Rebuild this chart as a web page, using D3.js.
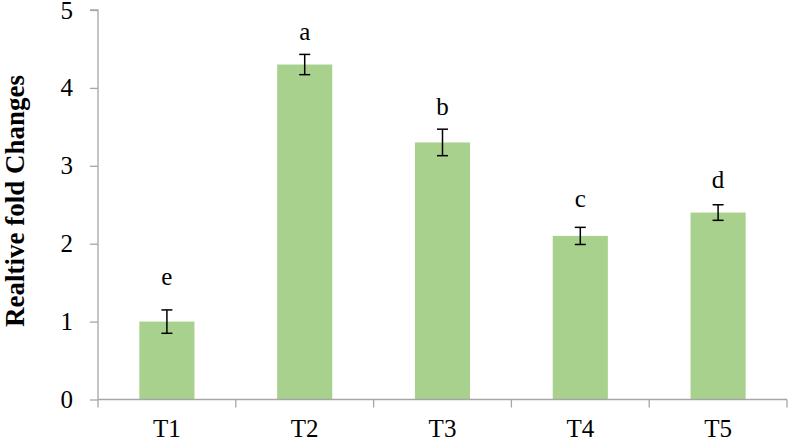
<!DOCTYPE html>
<html>
<head>
<meta charset="utf-8">
<script src="https://cdn.jsdelivr.net/npm/d3@7/dist/d3.min.js"></script>
<style>
html,body{margin:0;padding:0;background:#fff;}
svg{display:block;}
</style>
</head>
<body>
<svg id="chart" width="788" height="441"></svg>
<script>
const categories = ["T1", "T2", "T3", "T4", "T5"];
const values = [1.0, 4.3, 3.3, 2.1, 2.4];
const errors = [0.15, 0.13, 0.17, 0.11, 0.10];
const letters = ["e", "a", "b", "c", "d"];
const letterPos = [1.47, 4.61, 3.65, 2.47, 2.71];
const yTicks = [0, 1, 2, 3, 4, 5];
const yTitle = "Realtive fold Changes";

const svg = d3.select("#chart");
const m = {left: 98, right: 1, top: 10, bottom: 41.5};
const W = 788, H = 441;
const x = d3.scaleBand().domain(categories).range([m.left, W - m.right]).paddingInner(0.6).paddingOuter(0.3);
const y = d3.scaleLinear().domain([0, 5]).range([H - m.bottom, m.top]);
const axisColor = "#a6a6a6";
const serif = "Liberation Serif, Times New Roman, serif";

// bars
svg.append("g").selectAll("rect").data(values).join("rect")
  .attr("x", (d, i) => x(categories[i]))
  .attr("y", d => y(d))
  .attr("width", x.bandwidth())
  .attr("height", d => y(0) - y(d))
  .attr("fill", "#a9d18e");

// error bars
const eg = svg.append("g").attr("stroke", "#000").attr("stroke-width", 1.5);
values.forEach((v, i) => {
  const cx = x(categories[i]) + x.bandwidth() / 2;
  const cap = 5.5;
  eg.append("line").attr("x1", cx).attr("x2", cx).attr("y1", y(v + errors[i])).attr("y2", y(v - errors[i]));
  eg.append("line").attr("x1", cx - cap).attr("x2", cx + cap).attr("y1", y(v + errors[i])).attr("y2", y(v + errors[i]));
  eg.append("line").attr("x1", cx - cap).attr("x2", cx + cap).attr("y1", y(v - errors[i])).attr("y2", y(v - errors[i]));
});

// letters
svg.append("g").selectAll("text").data(letters).join("text")
  .attr("x", (d, i) => x(categories[i]) + x.bandwidth() / 2)
  .attr("y", (d, i) => y(letterPos[i]))
  .attr("text-anchor", "middle")
  .style("font-family", serif)
  .attr("font-size", 25)
  .attr("fill", "#000")
  .text(d => d);

// y axis
const yAxis = svg.append("g").attr("transform", `translate(${m.left},0)`)
  .call(d3.axisLeft(y).tickValues(yTicks).tickSize(8).tickPadding(17).tickFormat(d3.format("d")));
yAxis.attr("font-family", null).attr("font-size", null);
yAxis.selectAll("path,line").attr("stroke", axisColor).attr("stroke-width", 1.3);
yAxis.select(".domain").attr("d", `M-8,${y(5)}H0V${y(0)}`);
yAxis.selectAll("text").style("font-family", serif).attr("font-size", 25).attr("fill", "#000");

// x axis
const xAxisG = svg.append("g").attr("transform", `translate(0,${y(0)})`);
xAxisG.append("line").attr("x1", m.left).attr("x2", W - m.right).attr("y1", 0).attr("y2", 0)
  .attr("stroke", axisColor).attr("stroke-width", 1.3);
const step = x.step();
const bounds = d3.range(categories.length + 1).map(i => m.left + i * step);
xAxisG.selectAll("line.t").data(bounds).join("line").attr("class", "t")
  .attr("x1", d => d).attr("x2", d => d).attr("y1", 0).attr("y2", 8)
  .attr("stroke", axisColor).attr("stroke-width", 1.3);
xAxisG.selectAll("text").data(categories).join("text")
  .attr("x", d => x(d) + x.bandwidth() / 2)
  .attr("y", 37.5)
  .attr("text-anchor", "middle")
  .style("font-family", serif)
  .attr("font-size", 25)
  .attr("fill", "#000")
  .text(d => d);

// y title
svg.append("text")
  .attr("transform", `translate(24,${201}) rotate(-90)`)
  .attr("text-anchor", "middle")
  .style("font-family", serif)
  .attr("font-weight", "bold")
  .attr("font-size", 27)
  .attr("fill", "#000")
  .text(yTitle);
</script>
</body>
</html>
